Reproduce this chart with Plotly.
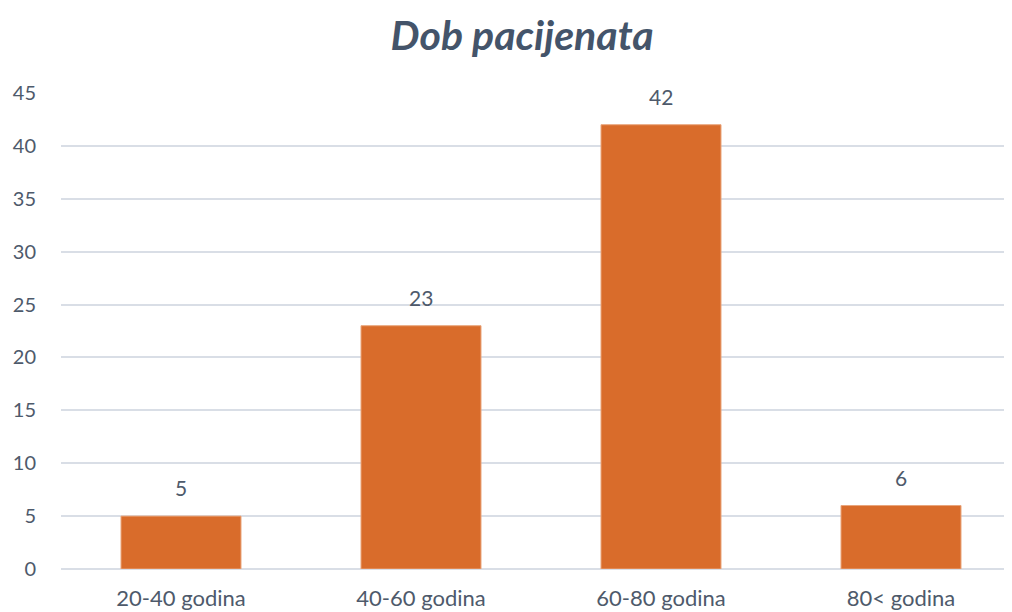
import plotly.graph_objects as go

categories = ["20-40 godina", "40-60 godina", "60-80 godina", "80< godina"]
values = [5, 23, 42, 6]
y_ticks = [0, 5, 10, 15, 20, 25, 30, 35, 40, 45]

text_color = "#44546A"
label_color = "#4E5A6B"

fig = go.Figure(
    go.Bar(
        x=categories,
        y=values,
        marker=dict(color="#D96C2B", line=dict(color="#E9A57C", width=1)),
        cliponaxis=False,
    )
)

for c, v in zip(categories, values):
    fig.add_annotation(
        x=c, y=v, text=str(v), showarrow=False,
        yanchor="bottom", yshift=14,
        font=dict(family="Lato", size=21, color=label_color),
    )

fig.update_layout(
    width=1012,
    height=612,
    paper_bgcolor="white",
    plot_bgcolor="white",
    margin=dict(l=53, r=0, t=85, b=51),
    bargap=0.5,
    showlegend=False,
    title=dict(
        text="<b><i>Dob pacijenata</i></b>",
        x=0.508,
        xanchor="center",
        y=0.955,
        yanchor="middle",
        font=dict(family="Lato", size=41, color=text_color),
    ),
    xaxis=dict(
        range=[-0.5, 3.4958],
        showgrid=False,
        showline=False,
        ticks="",
        ticklabelstandoff=14,
        tickfont=dict(family="Lato", size=22, color=label_color),
    ),
    yaxis=dict(
        range=[0, 45],
        tickvals=y_ticks,
        showgrid=True,
        gridcolor="#D9DEE6",
        gridwidth=1.5,
        zeroline=True,
        zerolinecolor="#D9DEE6",
        zerolinewidth=1.5,
        showline=False,
        ticks="",
        ticklabelstandoff=24,
        tickfont=dict(family="Lato", size=20, color=label_color),
    ),
)

fig.write_html("out.html")
